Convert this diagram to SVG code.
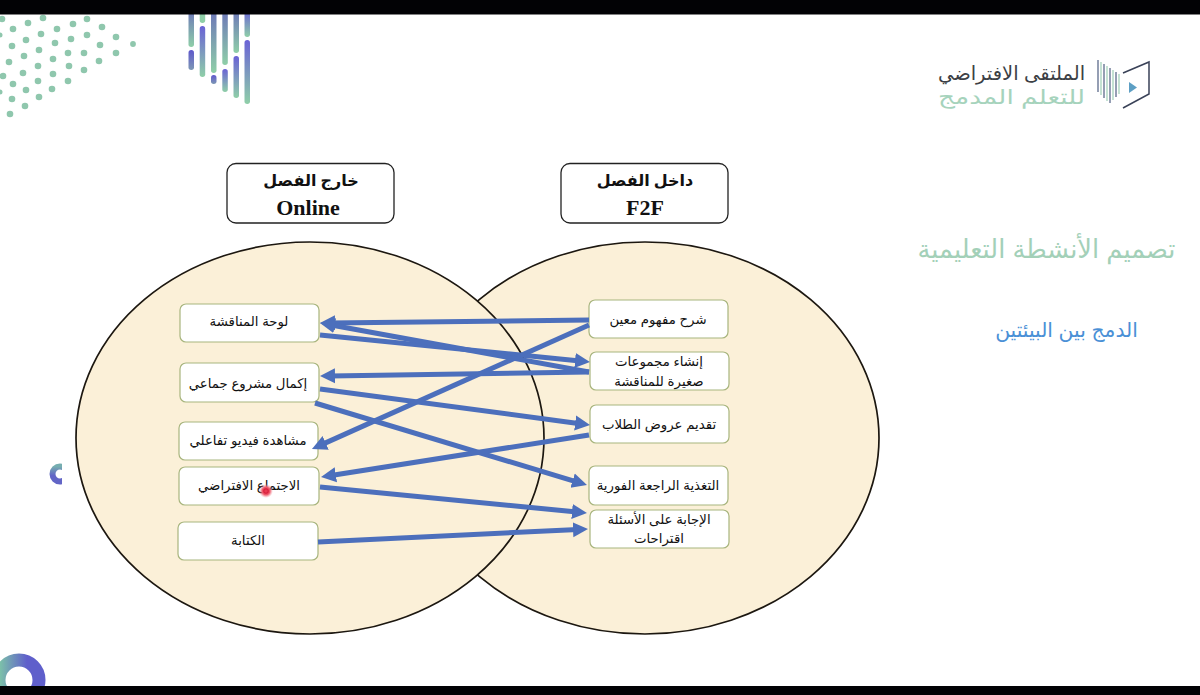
<svg xmlns="http://www.w3.org/2000/svg" width="1200" height="695" viewBox="0 0 1200 695">
<style>
text{font-family:"Liberation Sans","DejaVu Sans",sans-serif;fill:#111;text-anchor:middle}
.venn{fill:#fbf0d8;stroke:#1c1710;stroke-width:1.7}
.box{fill:#fff;stroke:#a8b57e;stroke-width:1.2}
.hbox{fill:#fff;stroke:#222;stroke-width:1.3}
.t{font-size:13.3px}
.ha{font-size:16px;font-weight:bold;font-family:"Liberation Serif","DejaVu Sans",serif}
.he{font-size:22px;font-weight:bold;font-family:"Liberation Serif",serif}
.c{stroke:#4c6fbc;stroke-width:5;fill:none;marker-end:url(#arr)}
.dot{fill:#8fc7ad}
.bar{stroke:none}
</style>
<defs>
<marker id="arr" markerUnits="userSpaceOnUse" markerWidth="17" markerHeight="18" refX="5" refY="9" orient="auto"><path d="M0,1.500 L15,9 L0,16.500 Z" fill="#4c6fbc"/></marker>
<linearGradient id="b1" x1="0" y1="0" x2="0" y2="1"><stop offset="0" stop-color="#6a62d6"/><stop offset="1" stop-color="#8fcfa8"/></linearGradient>
<linearGradient id="b2" x1="0" y1="0" x2="0" y2="1"><stop offset="0" stop-color="#6c75b8"/><stop offset="1" stop-color="#8fcfa8"/></linearGradient>
<linearGradient id="b3" x1="0" y1="0" x2="0" y2="1"><stop offset="0" stop-color="#5f58cc"/><stop offset="1" stop-color="#7d98b4"/></linearGradient>
<linearGradient id="ring" x1="0" y1="0" x2="1" y2="0"><stop offset="0" stop-color="#7dc4a8"/><stop offset=".7" stop-color="#5f5fcb"/></linearGradient>
<linearGradient id="ring2" x1="0" y1="0" x2="0" y2="1"><stop offset="0" stop-color="#76aeb0"/><stop offset=".6" stop-color="#6265c6"/></linearGradient>
<radialGradient id="pink"><stop offset="0" stop-color="#e8304a"/><stop offset=".55" stop-color="#ee5a6a"/><stop offset="1" stop-color="#f6a0a8" stop-opacity="0"/></radialGradient>
<clipPath id="cc"><rect x="40" y="460" width="22" height="30"/></clipPath>
</defs>
<rect width="1200" height="695" fill="#fff"/>
<g id="decor-dots">
<circle class="dot" cx="2" cy="19" r="3.300"/><circle class="dot" cx="28" cy="23" r="3.300"/><circle class="dot" cx="43" cy="18" r="3.300"/><circle class="dot" cx="13" cy="29" r="3.300"/><circle class="dot" cx="57" cy="29" r="3.300"/><circle class="dot" cx="73" cy="24" r="3.300"/><circle class="dot" cx="87" cy="19" r="3.300"/><circle class="dot" cx="102" cy="27" r="3.300"/><circle class="dot" cx="116" cy="37" r="3.300"/><circle class="dot" cx="133" cy="44" r="2.900"/><circle class="dot" cx="116" cy="53" r="3.300"/><circle class="dot" cx="100" cy="45" r="3.300"/><circle class="dot" cx="87" cy="35" r="3.300"/><circle class="dot" cx="71" cy="39" r="3.300"/><circle class="dot" cx="55" cy="43" r="3.300"/><circle class="dot" cx="41" cy="34" r="3.300"/><circle class="dot" cx="26" cy="40" r="3.300"/><circle class="dot" cx="12" cy="46" r="3.300"/><circle class="dot" cx="39" cy="50" r="3.300"/><circle class="dot" cx="24" cy="56" r="3.300"/><circle class="dot" cx="9" cy="62" r="3.300"/><circle class="dot" cx="53" cy="59" r="3.300"/><circle class="dot" cx="68" cy="53" r="3.300"/><circle class="dot" cx="84" cy="53" r="3.300"/><circle class="dot" cx="99" cy="61" r="3.300"/><circle class="dot" cx="69" cy="66" r="3.300"/><circle class="dot" cx="84" cy="70" r="3.300"/><circle class="dot" cx="38" cy="66" r="3.300"/><circle class="dot" cx="23" cy="73" r="3.300"/><circle class="dot" cx="3" cy="76" r="3.300"/><circle class="dot" cx="53" cy="74" r="3.300"/><circle class="dot" cx="68" cy="81" r="3.300"/><circle class="dot" cx="38" cy="81" r="3.300"/><circle class="dot" cx="13" cy="84" r="3.300"/><circle class="dot" cx="26" cy="90" r="3.300"/><circle class="dot" cx="52" cy="89" r="3.300"/><circle class="dot" cx="39" cy="97" r="3.300"/><circle class="dot" cx="12" cy="99" r="3.300"/><circle class="dot" cx="25" cy="106" r="3.300"/><circle class="dot" cx="10" cy="114" r="3.300"/><circle class="dot" cx="0" cy="35" r="2.500"/><circle class="dot" cx="0" cy="92" r="2.500"/>
</g>
<g id="decor-bars">
<rect class="bar" x="188.500" y="10" width="5.500" height="37" rx="2.700" fill="url(#b2)"/>
<rect class="bar" x="188.500" y="50" width="5.500" height="20" rx="2.700" fill="url(#b3)"/>
<rect class="bar" x="199.700" y="10" width="5.500" height="13" rx="2.700" fill="#8fcfa8"/>
<rect class="bar" x="199.700" y="26" width="5.500" height="51" rx="2.700" fill="url(#b1)"/>
<rect class="bar" x="211" y="10" width="5.500" height="63" rx="2.700" fill="url(#b2)"/>
<rect class="bar" x="211" y="75" width="5.500" height="9" rx="2.700" fill="url(#b3)"/>
<rect class="bar" x="222.300" y="10" width="5.500" height="55" rx="2.700" fill="url(#b2)"/>
<rect class="bar" x="222.300" y="69" width="5.500" height="23" rx="2.700" fill="url(#b1)"/>
<rect class="bar" x="233.500" y="10" width="5.500" height="43" rx="2.700" fill="url(#b2)"/>
<rect class="bar" x="233.500" y="56" width="5.500" height="42" rx="2.700" fill="url(#b1)"/>
<rect class="bar" x="244.500" y="10" width="5.500" height="27" rx="2.700" fill="url(#b1)"/>
<rect class="bar" x="244.500" y="40" width="5.500" height="64" rx="2.700" fill="url(#b1)"/>
</g>
<g id="decor-rings">
<circle cx="19" cy="680" r="20" fill="none" stroke="url(#ring)" stroke-width="13"/>
<circle cx="60" cy="474" r="7.500" fill="none" stroke="url(#ring2)" stroke-width="6" clip-path="url(#cc)"/>
</g>
<g id="logo">
<path d="M1098,60V92M1104,64V98M1110,68V103M1116,72V97" fill="none" stroke="#5d6b8c" stroke-width="1.300"/>
<path d="M1101,62V95M1107,66V101M1113,70V100M1119,74V94" fill="none" stroke="#a6d3bc" stroke-width="1.300"/>
<path d="M1123,73L1149,62V94L1123,108" fill="none" stroke="#3a4258" stroke-width="1.500"/>
<path d="M1129,82L1137,87.500L1129,93Z" fill="#5d9fc4"/>
<text x="1011.500" y="80" style="font-size:19.500px;fill:#3c3f45">الملتقى الافتراضي</text>
<text x="1011.500" y="104" textLength="147" lengthAdjust="spacingAndGlyphs" style="font-size:20px;fill:#a6d3bc">للتعلم المدمج</text>
</g>
<g id="heading">
<text x="1046.500" y="258" style="font-size:25.700px;fill:#a3d0b8">تصميم الأنشطة التعليمية</text>
<text x="1066.500" y="337" style="font-size:20.300px;fill:#4a90d6">الدمج بين البيئتين</text>
</g>
<g id="venn-right"><ellipse class="venn" cx="645" cy="438" rx="234" ry="196"/></g>
<g id="venn-left"><ellipse class="venn" cx="310" cy="438" rx="234" ry="196"/></g>
<g id="header-online"><rect class="hbox" x="227" y="163.500" width="167" height="59.500" rx="9"/><text class="ha" x="311" y="186">خارج الفصل</text><text class="he" x="308" y="215">Online</text></g>
<g id="header-f2f"><rect class="hbox" x="561" y="163.500" width="167" height="59.500" rx="9"/><text class="ha" x="645" y="186">داخل الفصل</text><text class="he" x="645" y="215">F2F</text></g>
<g id="n-board"><rect class="box" x="180" y="304" width="139" height="38" rx="6"/><text class="t" x="249" y="326">لوحة المناقشة</text></g>
<g id="n-project"><rect class="box" x="180" y="363" width="139" height="39" rx="6"/><text class="t" x="248" y="388">إكمال مشروع جماعي</text></g>
<g id="n-video"><rect class="box" x="179" y="422" width="139" height="38" rx="6"/><text class="t" x="248" y="445">مشاهدة فيديو تفاعلي</text></g>
<g id="n-meeting"><rect class="box" x="179" y="467" width="140" height="38" rx="6"/><text class="t" x="249" y="490">الاجتماع الافتراضي</text></g>
<g id="n-writing"><rect class="box" x="178" y="522" width="140" height="38" rx="6"/><text class="t" x="248" y="545">الكتابة</text></g>
<g id="n-explain"><rect class="box" x="589" y="300" width="139" height="38" rx="6"/><text class="t" x="658" y="324">شرح مفهوم معين</text></g>
<g id="n-groups"><rect class="box" x="590" y="352" width="139" height="38" rx="6"/><text class="t" x="659" y="366">إنشاء مجموعات</text><text class="t" x="659" y="386">صغيرة للمناقشة</text></g>
<g id="n-present"><rect class="box" x="590" y="405" width="139" height="38" rx="6"/><text class="t" x="659" y="429">تقديم عروض الطلاب</text></g>
<g id="n-feedback"><rect class="box" x="589" y="466" width="139" height="39" rx="6"/><text class="t" x="658" y="490">التغذية الراجعة الفورية</text></g>
<g id="n-answers"><rect class="box" x="590" y="510" width="139" height="38" rx="6"/><text class="t" x="659" y="524">الإجابة على الأسئلة</text><text class="t" x="659" y="543">اقتراحات</text></g>
<g id="connectors">
<line class="c" x1="589" y1="320" x2="330" y2="322.900"/>
<line class="c" x1="589" y1="325" x2="321.100" y2="444.900"/>
<line class="c" x1="320" y1="335" x2="580" y2="361"/>
<line class="c" x1="589" y1="372" x2="329.800" y2="324.800"/>
<line class="c" x1="589" y1="372" x2="330" y2="375.900"/>
<line class="c" x1="320" y1="389" x2="580.100" y2="423.700"/>
<line class="c" x1="315" y1="403" x2="577.400" y2="482.100"/>
<line class="c" x1="589" y1="435" x2="330.900" y2="475.500"/>
<line class="c" x1="320" y1="487" x2="577" y2="512"/>
<line class="c" x1="318" y1="542" x2="578" y2="529.500"/>
</g>
<g id="pointer"><circle cx="266" cy="491" r="7" fill="url(#pink)"/><circle cx="266" cy="491" r="2.200" fill="none" stroke="#d81f3c" stroke-width="1.200"/></g>
<g id="screen-bars"><rect x="0" y="0" width="1200" height="14.500" fill="#020205"/><rect x="0" y="686" width="1200" height="9" fill="#020205"/></g>
</svg>
